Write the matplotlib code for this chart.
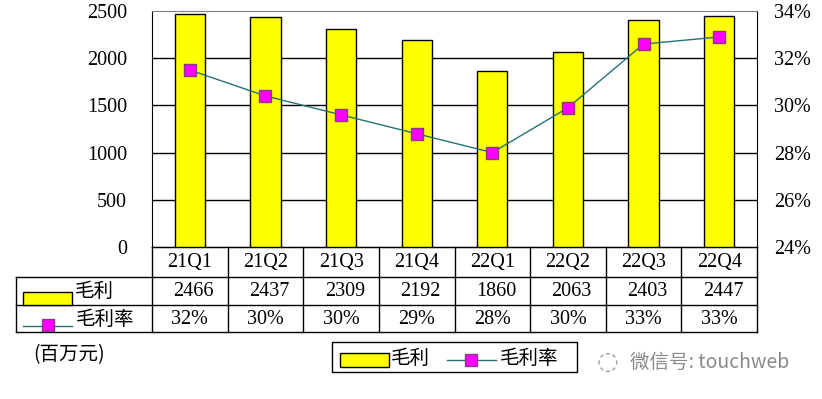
import matplotlib.pyplot as plt
from matplotlib.transforms import blended_transform_factory
from matplotlib.patches import Rectangle
from matplotlib.lines import Line2D

quarters = ["21Q1", "21Q2", "21Q3", "21Q4", "22Q1", "22Q2", "22Q3", "22Q4"]
gross_profit = [2466, 2437, 2309, 2192, 1860, 2063, 2403, 2447]
margin = [31.5, 30.4, 29.6, 28.8, 28.0, 29.9, 32.6, 32.9]
margin_labels = ["32%", "30%", "30%", "29%", "28%", "30%", "33%", "33%"]
left_ticks = [0, 500, 1000, 1500, 2000, 2500]
right_ticks = [24, 26, 28, 30, 32, 34]

serif = ["Liberation Serif", "Noto Sans CJK SC"]
cjk = ["Noto Sans CJK SC", "DejaVu Sans"]
fs = 14.5
cfs = 14

W, H = 822, 399
fig = plt.figure(figsize=(W / 100, H / 100), dpi=100)


def fx(px):
    return px / W


def fy(px):
    return 1 - px / H


ax = fig.add_axes([fx(152), fy(247), fx(757) - fx(152), fy(11) - fy(247)])
x = list(range(len(quarters)))
ax.bar(x, gross_profit, width=0.4, color="#FFFF00", edgecolor="black", linewidth=1, zorder=3)
ax.set_xlim(-0.5, len(quarters) - 0.5)
ax.set_ylim(0, 2500)
ax.set_yticks(left_ticks)
ax.set_yticklabels([str(t) for t in left_ticks], family=serif, fontsize=fs)
ax.set_xticks([])
ax.tick_params(axis="y", length=0, pad=18)
for t in left_ticks[1:-1]:
    ax.axhline(t, color="black", linewidth=1, zorder=1)
for s in ["left", "right", "bottom"]:
    ax.spines[s].set_color("black")
ax.spines["top"].set_color("#808080")

ax2 = ax.twinx()
ax2.plot(x, margin, color="#23737A", linewidth=1, marker="s", markersize=9,
         markerfacecolor="#FF00FF", markeredgecolor="#7F3F7F", markeredgewidth=1, zorder=5)
ax2.set_ylim(24, 34)
ax2.set_yticks(right_ticks)
ax2.set_yticklabels([f"{t}%" for t in right_ticks], family=serif, fontsize=fs)
ax2.tick_params(axis="y", length=0, pad=12)
for s in ax2.spines.values():
    s.set_visible(False)

# data table under the chart
tr = blended_transform_factory(ax.transData, fig.transFigure)
left_x = -0.5 - (152 - 16) / (605 / len(quarters))
right_x = len(quarters) - 0.5
lk = dict(color="black", linewidth=1, transform=tr, clip_on=False)
ax.plot([-0.5, right_x], [fy(247), fy(247)], **lk)
for yy in [277, 305, 332]:
    ax.plot([left_x, right_x], [fy(yy), fy(yy)], **lk)
ax.plot([left_x, left_x], [fy(277), fy(332)], **lk)
for i in range(len(quarters) + 1):
    ax.plot([i - 0.5, i - 0.5], [fy(247), fy(332)], **lk)

for i, q in enumerate(quarters):
    ax.text(i, fy(262), q, transform=tr, ha="center", va="center",
            family=serif, fontsize=fs, clip_on=False)
    ax.text(i + 0.05, fy(291), str(gross_profit[i]), transform=tr, ha="center", va="center",
            family=serif, fontsize=fs, clip_on=False)
    ax.text(i, fy(319), margin_labels[i], transform=tr, ha="center", va="center",
            family=serif, fontsize=fs, clip_on=False)

# row keys
fig.add_artist(Rectangle((fx(23), fy(305)), fx(72) - fx(23), fy(292) - fy(305),
                         facecolor="#FFFF00", edgecolor="black", linewidth=1))
fig.text(fx(75), fy(291), "毛利", family=cjk, fontsize=cfs, va="center", fontweight="light")
fig.add_artist(Line2D([fx(23), fx(72)], [fy(326), fy(326)], color="#23737A", linewidth=1))
fig.add_artist(Line2D([fx(48)], [fy(325)], marker="s", markersize=9, markerfacecolor="#FF00FF",
                      markeredgecolor="#7F3F7F", linestyle="none"))
fig.text(fx(76), fy(319), "毛利率", family=cjk, fontsize=cfs, va="center", fontweight="light")

fig.text(fx(33), fy(355), "(百万元)", family=cjk, fontsize=cfs, va="center", fontweight="light")

# legend box
fig.add_artist(Rectangle((fx(332), fy(372)), fx(577) - fx(332), fy(342) - fy(372),
                         facecolor="white", edgecolor="black", linewidth=1))
fig.add_artist(Rectangle((fx(340), fy(367)), fx(389) - fx(340), fy(353) - fy(367),
                         facecolor="#FFFF00", edgecolor="black", linewidth=1))
fig.text(fx(391), fy(358), "毛利", family=cjk, fontsize=cfs, va="center", fontweight="light")
fig.add_artist(Line2D([fx(447), fx(496)], [fy(360), fy(360)], color="#23737A", linewidth=1))
fig.add_artist(Line2D([fx(471)], [fy(360)], marker="s", markersize=9, markerfacecolor="#FF00FF",
                      markeredgecolor="#7F3F7F", linestyle="none"))
fig.text(fx(500), fy(358), "毛利率", family=cjk, fontsize=cfs, va="center", fontweight="light")

# watermark
fig.text(fx(630), fy(362), "微信号: touchweb", family=cjk, fontsize=14, color="#8A8A8A",
         va="center", fontweight="light")
fig.text(fx(597), fy(362), "◌", family=["DejaVu Sans"], fontsize=18, color="#A0A0A0", va="center")

fig.savefig("out.png", dpi=100)
